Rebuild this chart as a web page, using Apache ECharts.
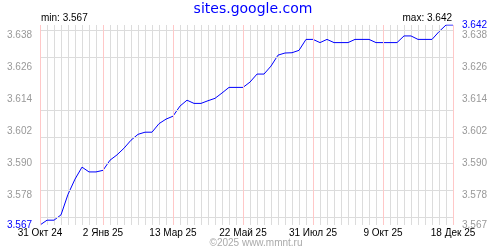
<!DOCTYPE html>
<html>
<head>
<meta charset="utf-8">
<script src="https://cdn.jsdelivr.net/npm/echarts@6/dist/echarts.min.js"></script>
<style>html,body{margin:0;padding:0;background:#fff}#c{width:500px;height:250px}</style>
</head>
<body>
<div id="c"></div>
<script>
const dates = [
  '2024-10-31','2024-11-07','2024-11-14','2024-11-21','2024-11-28','2024-12-05','2024-12-12','2024-12-19','2024-12-26',
  '2025-01-02','2025-01-09','2025-01-16','2025-01-23','2025-01-30','2025-02-06','2025-02-13','2025-02-20','2025-02-27',
  '2025-03-06','2025-03-13','2025-03-20','2025-03-27','2025-04-03','2025-04-10','2025-04-17','2025-04-24',
  '2025-05-01','2025-05-08','2025-05-15','2025-05-22','2025-05-29','2025-06-05','2025-06-12','2025-06-19','2025-06-26',
  '2025-07-03','2025-07-10','2025-07-17','2025-07-24','2025-07-31','2025-08-07','2025-08-14','2025-08-21','2025-08-28',
  '2025-09-04','2025-09-11','2025-09-18','2025-09-25','2025-10-02','2025-10-09','2025-10-16','2025-10-23','2025-10-30',
  '2025-11-06','2025-11-13','2025-11-20','2025-11-27','2025-12-04','2025-12-11','2025-12-18'
];
const values = [
  3.5670, 3.5688, 3.5688, 3.5708, 3.5785, 3.5842, 3.5887, 3.5869, 3.5869,
  3.5875, 3.5913, 3.5933, 3.5958, 3.5988, 3.6010, 3.6018, 3.6018, 3.6050,
  3.6067, 3.6078, 3.6116, 3.6138, 3.6126, 3.6126, 3.6136, 3.6145,
  3.6165, 3.6186, 3.6186, 3.6186, 3.6206, 3.6236, 3.6236, 3.6266, 3.6307,
  3.6315, 3.6316, 3.6325, 3.6366, 3.6366, 3.6354, 3.6366, 3.6354, 3.6354,
  3.6354, 3.6366, 3.6366, 3.6366, 3.6354, 3.6354, 3.6354, 3.6354, 3.6379,
  3.6379, 3.6366, 3.6366, 3.6366, 3.6395, 3.6420, 3.6420
];
const yTicks = [3.567, 3.578, 3.590, 3.602, 3.614, 3.626, 3.638];
const minValue = 3.567;
const maxValue = 3.642;
const xLabelDates = ['2024-10-31','2025-01-02','2025-03-13','2025-05-22','2025-07-31','2025-10-09','2025-12-18'];
const xLabelTexts = ['31 Окт 24','2 Янв 25','13 Мар 25','22 Май 25','31 Июл 25','9 Окт 25','18 Дек 25'];
const titleText = 'sites.google.com';
const copyrightText = '©2025 www.mmnt.ru';

const FONT = '"Liberation Sans", Arial, sans-serif';
const labelMap = {};
xLabelDates.forEach((d, i) => { labelMap[d] = xLabelTexts[i]; });

const chart = echarts.init(document.getElementById('c'), null, {renderer: 'canvas'});
const gridLines = [];
yTicks.concat([maxValue]).forEach(v => gridLines.push({yAxis: v, lineStyle: {color: '#dcdcdc', width: 1, type: 'solid'}}));
xLabelDates.forEach(d => gridLines.push({xAxis: d, lineStyle: {color: '#ffc8c8', width: 1, type: 'solid'}}));

chart.setOption({
  animation: false,
  backgroundColor: '#ffffff',
  grid: {left: 40, right: 47, top: 25, bottom: 25, containLabel: false},
  xAxis: {
    type: 'category',
    data: dates,
    boundaryGap: false,
    axisLine: {show: false},
    axisTick: {show: false},
    splitLine: {show: true, interval: 0, lineStyle: {color: '#dcdcdc', width: 1}},
    axisLabel: {
      interval: (idx, val) => labelMap[val] !== undefined,
      formatter: v => labelMap[v] || '',
      color: '#000', fontFamily: FONT, fontSize: 10, margin: 3
    }
  },
  yAxis: [
    {
      type: 'value', position: 'left', min: minValue, max: maxValue,
      axisLine: {show: false}, axisTick: {show: false}, splitLine: {show: false},
      axisLabel: {
        customValues: yTicks,
        formatter: v => (Math.abs(v - minValue) < 1e-9 ? '{b|' + v.toFixed(3) + '}' : v.toFixed(3)),
        rich: {b: {color: '#0000ff', fontFamily: FONT, fontSize: 10}},
        color: '#999999', fontFamily: FONT, fontSize: 10, margin: 8
      }
    },
    {
      type: 'value', position: 'right', min: minValue, max: maxValue,
      axisLine: {show: false}, axisTick: {show: false}, splitLine: {show: false},
      axisLabel: {
        customValues: yTicks.concat([maxValue]),
        formatter: v => (Math.abs(v - maxValue) < 1e-9 ? '{b|' + v.toFixed(3) + '}' : v.toFixed(3)),
        rich: {b: {color: '#0000ff', fontFamily: FONT, fontSize: 10}},
        color: '#999999', fontFamily: FONT, fontSize: 10, margin: 9
      }
    }
  ],
  series: [
    {
      type: 'line', data: values, z: 1, silent: true, symbol: 'none',
      lineStyle: {opacity: 0},
      markLine: {
        silent: true, symbol: ['none', 'none'], label: {show: false},
        emphasis: {disabled: true}, animation: false,
        data: gridLines
      }
    },
    {
      type: 'line', data: values, z: 3, symbol: 'none', silent: true,
      lineStyle: {color: '#0000ff', width: 1}
    }
  ],
  graphic: [
    {type: 'text', x: 253, y: 9, style: {text: titleText, fill: '#0000ff', font: '14px "DejaVu Sans", Verdana, sans-serif', textAlign: 'center', textVerticalAlign: 'middle'}},
    {type: 'text', x: 41, y: 18, style: {text: 'min: ' + minValue.toFixed(3), fill: '#000', font: '10px ' + FONT, textAlign: 'left', textVerticalAlign: 'middle'}},
    {type: 'text', x: 452, y: 18, style: {text: 'max: ' + maxValue.toFixed(3), fill: '#000', font: '10px ' + FONT, textAlign: 'right', textVerticalAlign: 'middle'}},
    {type: 'text', x: 256, y: 243, style: {text: copyrightText, fill: '#aaaaaa', font: '10px ' + FONT, textAlign: 'center', textVerticalAlign: 'middle'}}
  ]
});
</script>
</body>
</html>
